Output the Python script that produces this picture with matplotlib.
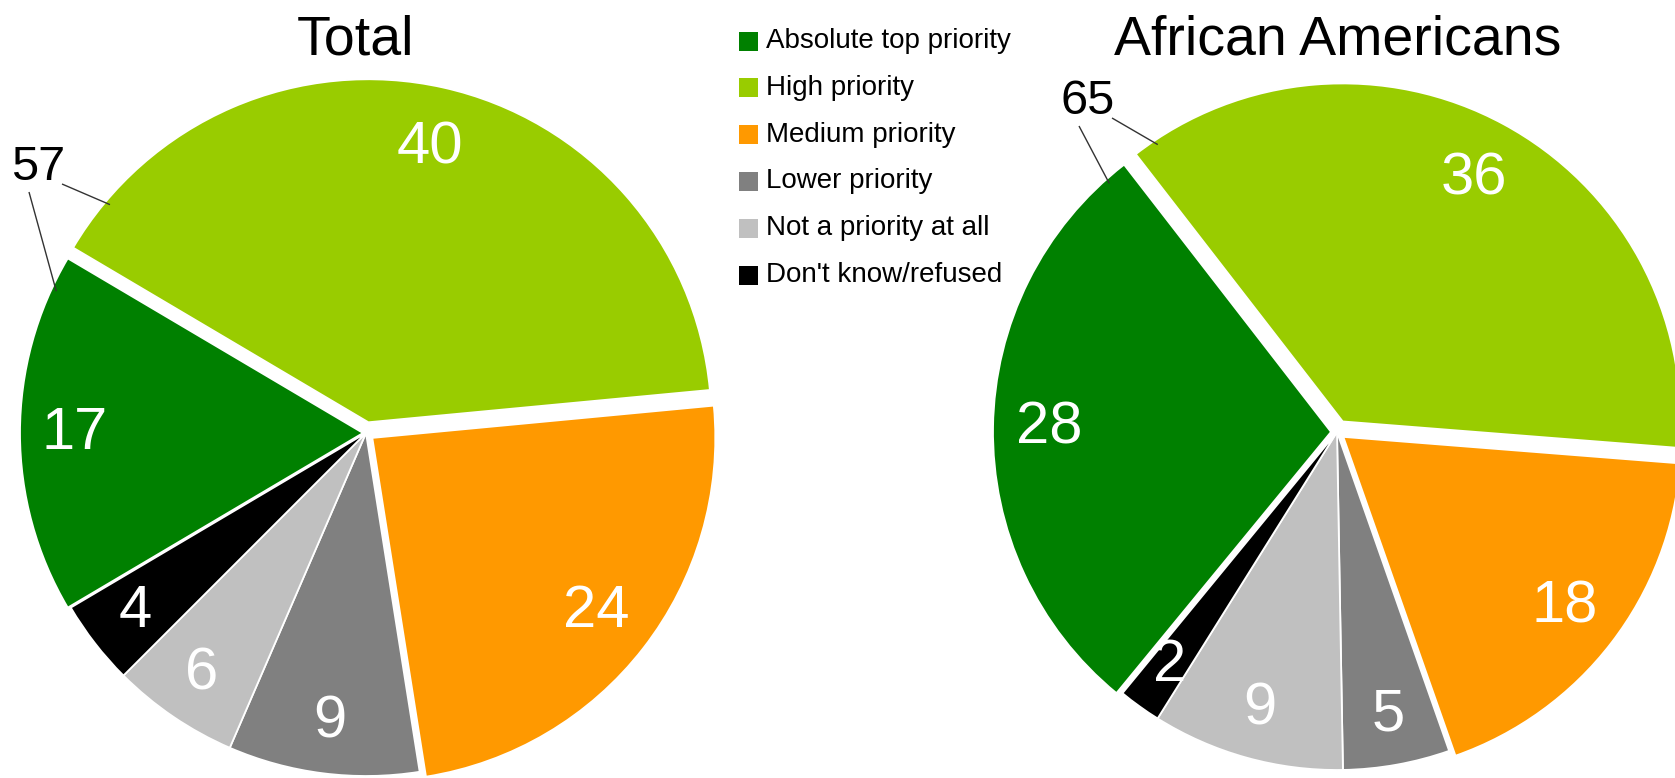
import numpy as np
import matplotlib
matplotlib.use("Agg")
import matplotlib.pyplot as plt
from matplotlib.patches import Rectangle

plt.rcParams['font.family'] = ['Liberation Sans', 'DejaVu Sans']

# Priority categories shared by both pies
categories = ["Absolute top priority", "High priority", "Medium priority",
              "Lower priority", "Not a priority at all", "Don't know/refused"]
colors = ["#008000", "#99CC00", "#FF9900", "#808080", "#C0C0C0", "#000000"]

# Share of respondents (%) per category
total_values = [17, 40, 24, 9, 6, 4]
african_american_values = [28, 36, 18, 5, 9, 2]

# Combined "top + high priority" callouts
total_top_high = 57
african_american_top_high = 65

W, H = 1675, 778
fig = plt.figure(figsize=(W / 100, H / 100), dpi=100)
ax = fig.add_axes([0, 0, 1, 1])


def draw_pie(values, center, radius, start, explode, title, title_x,
             combined, combined_xy, tip_offsets):
    wedges, _ = ax.pie(values, colors=colors, startangle=start,
                       counterclock=False, center=center, radius=radius,
                       explode=explode, frame=True,
                       wedgeprops=dict(edgecolor='white', linewidth=1.3))
    # value labels, measured from the pie centre
    for w, v in zip(wedges, values):
        mid = np.deg2rad((w.theta1 + w.theta2) / 2)
        d = 0.85 * radius
        ax.text(center[0] + d * np.cos(mid), center[1] + d * np.sin(mid),
                f"{v}", color='white', fontsize=43, ha='center', va='center')
    # callout for the first two slices together
    lx, ly = combined_xy
    ax.text(lx, ly, f"{combined}", color='black', fontsize=35,
            ha='center', va='center')
    top, high = wedges[0], wedges[1]
    boundary = top.theta1  # shared edge of the two green slices
    for w, off, start_pt in ((high, tip_offsets[0], (lx + 24, ly - 17)),
                             (top, tip_offsets[1], (lx - 9, ly - 25))):
        a = np.deg2rad(boundary + off)
        cx, cy = w.center
        tip = (cx + 0.985 * w.r * np.cos(a), cy + 0.985 * w.r * np.sin(a))
        ax.plot([start_pt[0], tip[0]], [start_pt[1], tip[1]],
                color='#333333', lw=1.0, solid_capstyle='butt')
    ax.text(title_x, H - 40, title, fontsize=40, ha='center', va='center')


draw_pie(total_values, center=(366, H - 433), radius=343, start=210.6,
         explode=[3, 11, 8, 0, 0, 0], title="Total", title_x=356,
         combined=total_top_high, combined_xy=(38, H - 167),
         tip_offsets=(-9.5, 5.8))

draw_pie(african_american_values, center=(1337, H - 432), radius=338,
         start=230.6, explode=[6, 12, 8, 0, 0, 0],
         title="African Americans", title_x=1338,
         combined=african_american_top_high, combined_xy=(1088, H - 101),
         tip_offsets=(-4.0, 4.0))

ax.set_xlim(0, W)
ax.set_ylim(0, H)
ax.set_aspect('equal')
ax.axis('off')

# Legend
for i, (lab, col) in enumerate(zip(categories, colors)):
    yc = H - (41 + i * 46.8)
    ax.add_patch(Rectangle((739, yc - 9.5), 19, 19, facecolor=col,
                           edgecolor='none'))
    ax.text(766, yc, lab, fontsize=20, ha='left', va='center')

fig.savefig("out.png", dpi=100)
